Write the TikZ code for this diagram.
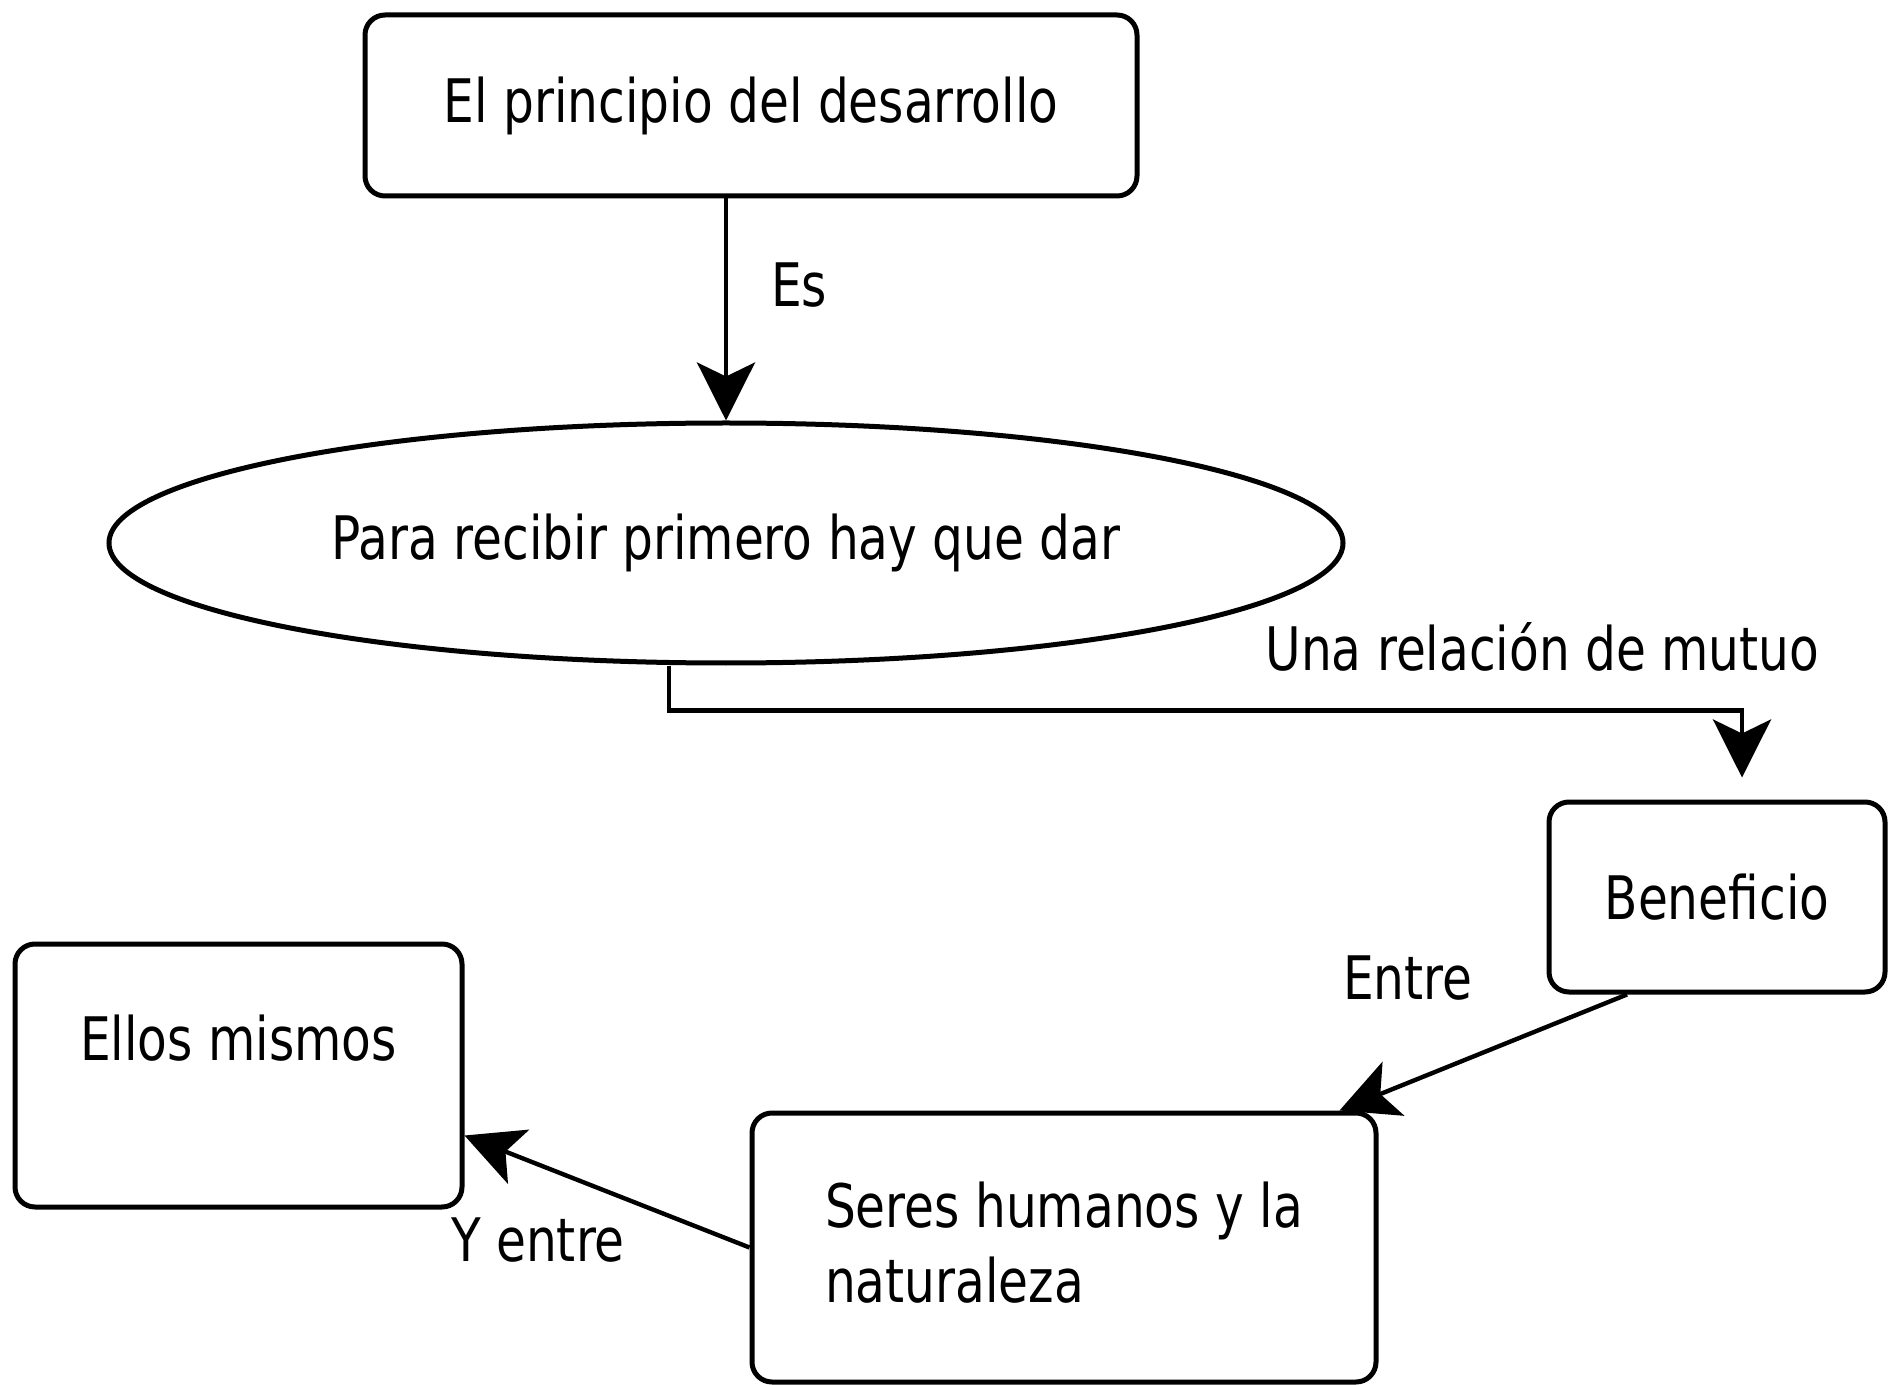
\documentclass[tikz,border=0pt]{standalone}
\usepackage{fontspec}
\setmainfont{DejaVu Sans}[FakeStretch=0.81]
\usepackage{tikz}
\usetikzlibrary{
  arrows.meta,
  calc,
  positioning,
  shapes.geometric
}

\begin{document}
\begin{tikzpicture}[
  x=0.5pt, y=-0.5pt,
  font=\fontsize{30}{37.5}\selectfont,
  box/.style={draw, line width=2.5pt, rounded corners=10pt, inner sep=0pt,
              align=center},
  oval/.style={draw, ellipse, line width=2.5pt, inner sep=0pt},
  lbl/.style={inner sep=0pt},
  arr/.style={-{Stealth[length=29pt, width=29pt, inset=7pt]}, line width=2.2pt}
]
\useasboundingbox (0,0) rectangle (1897,1385);

% Principle
\node[box, minimum width=386pt, minimum height=90.5pt] (principio) at (751,105.5) {El principio del desarrollo};

% Idea
\node[oval, minimum width=617pt, minimum height=120pt] (idea) at (726,543) {Para recibir primero hay que dar};

\draw[arr] (idea.north |- principio.south) -- (idea.north)
  node[lbl, pos=0.39, right=21.5pt] (les) {Es};

% Benefit
\node[box, minimum width=168pt, minimum height=95pt] (beneficio) at (1717,897) {Beneficio};

\draw[arr, shorten >=11pt] ([xshift=-28.5pt]idea.south) -- ++(0,-22.5pt) -| ([xshift=12.5pt]beneficio.north)
  node[lbl, pos=0.407, yshift=32pt] (lmutuo) {Una relación de mutuo};

% Humans and nature
\node[box, align=left, minimum width=312pt, minimum height=134.5pt,
      text height=94.5pt, text depth=40pt] (seres) at (1064,1247.5) {Seres humanos y la\\naturaleza};

\draw[arr] ([xshift=-45pt]beneficio.south) -- ([xshift=-19.5pt]seres.north east)
  node[lbl, pos=0.3, xshift=-66.5pt, yshift=25.5pt] (lentre) {Entre};

% Themselves
\node[box, minimum width=223.5pt, minimum height=131.5pt,
      text height=58pt, text depth=73.5pt] (ellos) at (238.5,1075.5) {Ellos mismos};

\draw[arr] (seres.west) -- ([yshift=-30pt]ellos.east)
  node[lbl, pos=0.5, xshift=-34.5pt, yshift=-24.5pt] (lyentre) {Y entre};

\end{tikzpicture}
\end{document}
